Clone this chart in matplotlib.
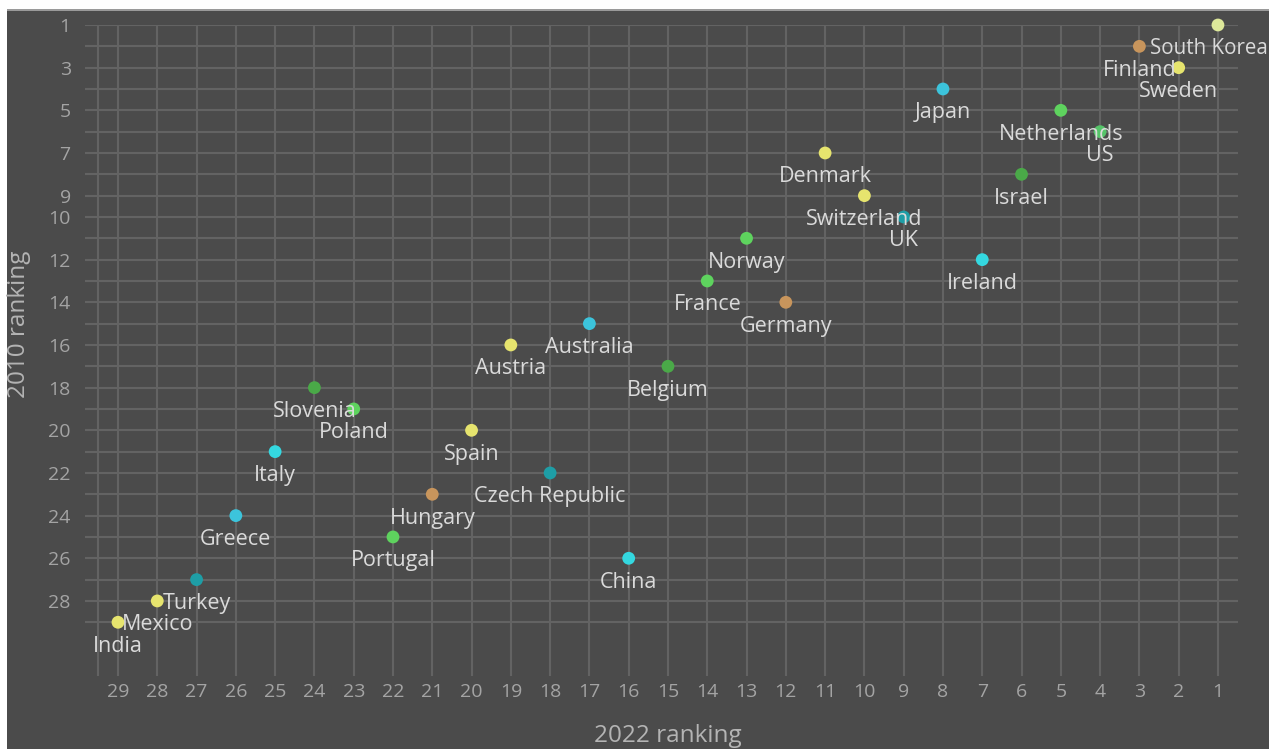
import matplotlib
matplotlib.use("Agg")
import matplotlib.pyplot as plt
from matplotlib.patches import Rectangle

countries = ["South Korea", "Finland", "Sweden", "Japan", "Netherlands", "US",
             "Denmark", "Israel", "Switzerland", "UK", "Norway", "Ireland",
             "France", "Germany", "Australia", "Austria", "Belgium", "Slovenia",
             "Poland", "Spain", "Italy", "Czech Republic", "Hungary", "Greece",
             "Portugal", "China", "Turkey", "Mexico", "India"]
rank_2022 = [1, 3, 2, 8, 5, 4, 11, 6, 10, 9, 13, 7, 14, 12, 17, 19, 15, 24,
             23, 20, 25, 18, 21, 26, 22, 16, 27, 28, 29]
rank_2010 = [1, 2, 3, 4, 5, 6, 7, 8, 9, 10, 11, 12, 13, 14, 15, 16, 17, 18,
             19, 20, 21, 22, 23, 24, 25, 26, 27, 28, 29]
groups = ["pale", "tan", "yellow", "blue", "green", "green2",
          "yellow", "dkgreen", "yellow", "teal", "green", "cyan",
          "green", "tan", "blue", "yellow", "dkgreen", "dkgreen",
          "green", "yellow", "cyan", "teal", "tan", "blue",
          "green", "cyan", "teal", "yellow", "yellow"]
x_ticks = list(range(1, 30))
y_ticks = [1, 3, 5, 7, 9, 10, 12, 14, 16, 18, 20, 22, 24, 26, 28]

palette = {"pale": "#dde89a", "tan": "#c8955c", "yellow": "#e6e46e",
           "blue": "#3cc4dc", "green": "#5ed35e", "green2": "#56c46a",
           "dkgreen": "#4aa948", "teal": "#1e9ea6", "cyan": "#34d8e0"}

BG = "#4b4b4b"
GRID = "#636363"
LABEL_C = "#dadada"

W, H = 1269, 749
fig = plt.figure(figsize=(W / 100, H / 100), dpi=100, facecolor="white")
bg = Rectangle((7 / W, 0), 1, (H - 10) / H, transform=fig.transFigure,
               facecolor=BG, edgecolor="none", zorder=-10)
line = Rectangle((7 / W, (H - 11) / H), 1, 1.5 / H, transform=fig.transFigure,
                 facecolor="#9a9a9a", edgecolor="none", zorder=-9)
fig.add_artist(bg)
fig.add_artist(line)

ax = fig.add_axes([84.6 / W, 73.4 / H, (1237.6 - 84.6) / W, (675.6 - 25) / H])
ax.set_zorder(1)
ax.patch.set_visible(False)
ax.set_xlim(29.85, 0.5)
ax.set_ylim(31.5, 1)
for s in ax.spines.values():
    s.set_visible(False)

for y in range(1, 30):
    ax.axhline(y, color=GRID, lw=1.5, zorder=1)
for x in x_ticks + [29.5]:
    ax.axvline(x, color=GRID, lw=1.5, zorder=1)

cols = [palette[g] for g in groups]
ax.scatter(rank_2022, rank_2010, s=85, c=cols, edgecolors="none", zorder=3, clip_on=False)

for name, x, y in zip(countries, rank_2022, rank_2010):
    if name == "South Korea":
        ax.annotate(name, xy=(x, y + 1.12), xycoords="data",
                    xytext=(1 - 1.0 / W, 0), textcoords=("figure fraction", "offset points"),
                    ha="right", va="center", fontsize=14.8, color=LABEL_C,
                    family="Open Sans", zorder=5, annotation_clip=False)
        continue
    ax.text(x, y + 1.12, name, ha="center", va="center", fontsize=15.5,
            color=LABEL_C, family="Open Sans", zorder=5, clip_on=False)

ax.set_xticks(x_ticks)
ax.set_xticklabels([str(v) for v in x_ticks])
ax.set_yticks(y_ticks)
ax.set_yticklabels([str(v) for v in y_ticks])
ax.tick_params(length=0, colors="#a4a4a4", labelsize=14)
ax.tick_params(axis="y", pad=10)
ax.tick_params(axis="x", pad=5)
for lab in ax.get_xticklabels() + ax.get_yticklabels():
    lab.set_family("Open Sans")

fig.text(668 / W, 1 - 736 / H, "2022 ranking", ha="center", va="center",
         fontsize=17.5, color="#b4b4b4", family="Open Sans")
fig.text(19 / W, 1 - 324 / H, "2010 ranking", ha="center", va="center",
         rotation=90, fontsize=17.5, color="#b4b4b4", family="Open Sans")

fig.savefig("out.png", dpi=100, facecolor=fig.get_facecolor())
